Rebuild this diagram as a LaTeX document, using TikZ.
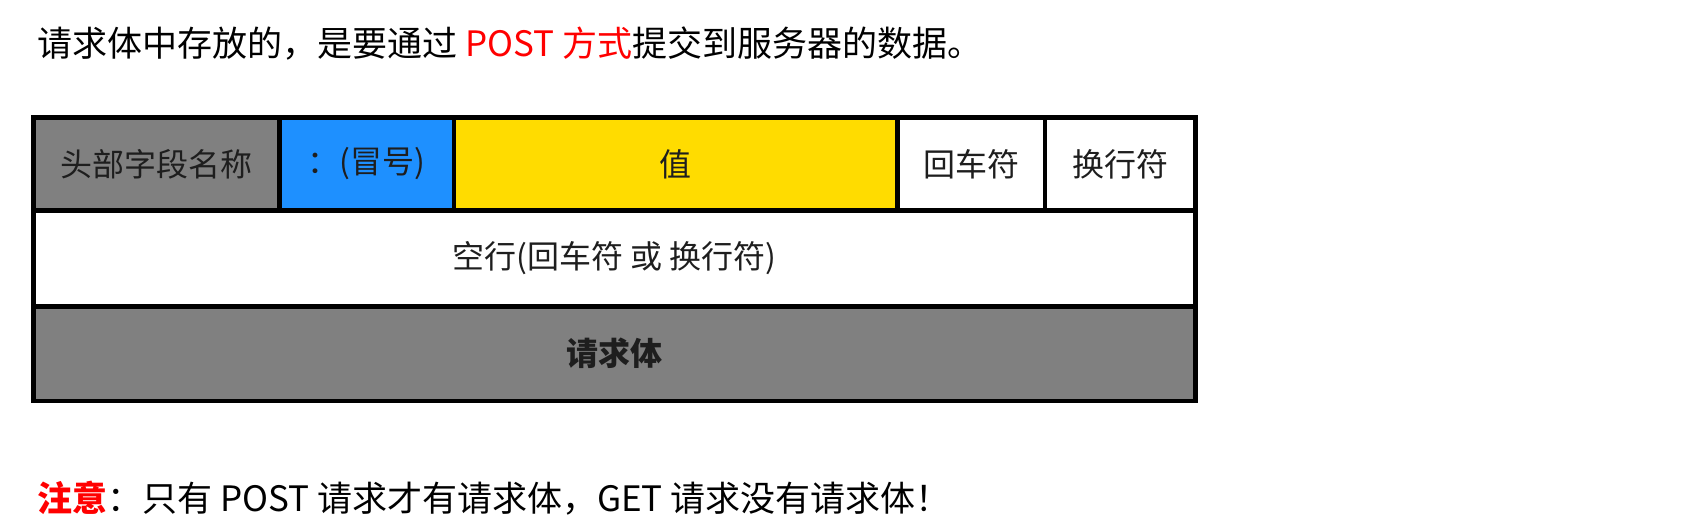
\documentclass[tikz,border=0pt]{standalone}
\usepackage{fontspec}
\setmainfont{Noto Sans CJK SC}
\definecolor{cellgray}{RGB}{128,128,128}
\definecolor{cellblue}{RGB}{30,144,255}
\definecolor{cellyellow}{RGB}{255,220,0}
\definecolor{txtred}{RGB}{255,0,0}
\definecolor{celltxt}{RGB}{30,30,30}
\begin{document}
\begin{tikzpicture}[x=1pt,y=-1pt,
  cell/.style={draw=black, line width=4.5pt, rectangle, inner sep=0pt, text=celltxt,
    font=\fontsize{32}{38}\selectfont},
  caption/.style={anchor=west, inner sep=0pt, font=\fontsize{35}{42}\selectfont}]
\useasboundingbox[fill=white] (0,0) rectangle (1705,525);
\node[caption] (top) at (37,44) {请求体中存放的，是要通过 \textcolor{txtred}{POST 方式}提交到服务器的数据。};
\node[cell, fill=cellgray, minimum width=246pt, minimum height=93pt] (name) at (156.5,164) {头部字段名称};
\node[cell, fill=cellblue, minimum width=174.5pt, minimum height=93pt] (colon) at (366.75,164) {：(冒号)};
\node[cell, fill=cellyellow, minimum width=443.5pt, minimum height=93pt] (value) at (675.75,164) {值};
\node[cell, fill=white, minimum width=147.5pt, minimum height=93pt] (cr) at (971.25,164) {回车符};
\node[cell, fill=white, minimum width=150.5pt, minimum height=93pt] (lf) at (1120.25,164) {换行符};
\node[cell, fill=white, minimum width=1162pt, minimum height=96pt] (blank) at (614.5,258.5) {空行(回车符 或 换行符)};
\node[cell, fill=cellgray, minimum width=1162pt, minimum height=94.5pt, font=\fontsize{32}{38}\selectfont\bfseries] (body) at (614.5,353.75) {请求体};
\node[caption] (note) at (37,498) {\textcolor{txtred}{\bfseries 注意}：只有 POST 请求才有请求体，GET 请求没有请求体！};
\end{tikzpicture}
\end{document}
